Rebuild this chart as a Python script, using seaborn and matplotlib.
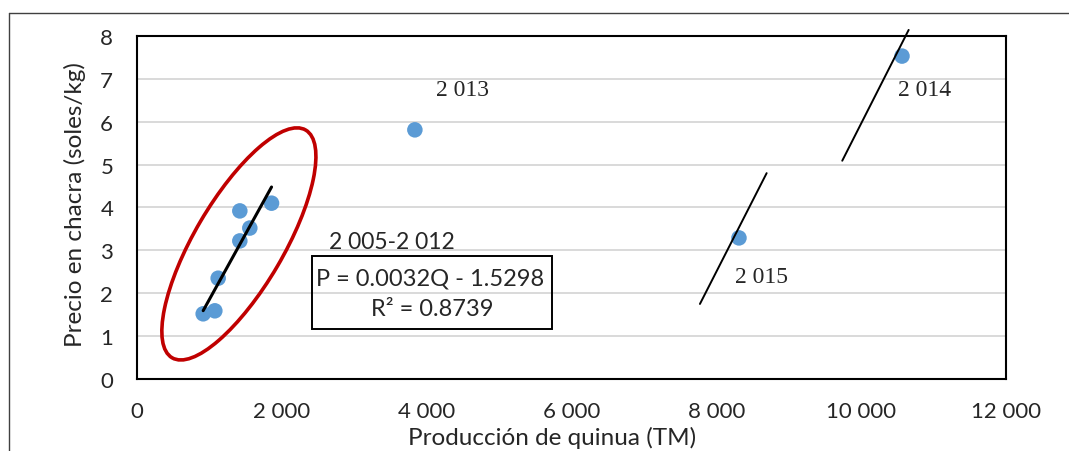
import matplotlib.pyplot as plt
import seaborn as sns
import pandas as pd
import numpy as np
from matplotlib.patches import Ellipse, Rectangle
from matplotlib.transforms import ScaledTranslation
from matplotlib.lines import Line2D

# datos
produccion = [916, 1077, 1123, 1422, 1560, 1422, 1860, 3839, 10565, 8314]
precio = [1.52, 1.59, 2.35, 3.22, 3.52, 3.92, 4.10, 5.81, 7.53, 3.29]
periodo = ['2005-2012'] * 7 + ['2013', '2014', '2015']

# lineas de tendencia dibujadas a mano (2014 y 2015)
tend_2014_x = [9740, 10657]
tend_2014_y = [5.09, 8.14]
tend_2015_x = [7775, 8696]
tend_2015_y = [1.75, 4.80]

x_ticks = [0, 2000, 4000, 6000, 8000, 10000, 12000]
x_ticklabels = ['0', '2 000', '4 000', '6 000', '8 000', '10 000', '12 000']
y_ticks = [0, 1, 2, 3, 4, 5, 6, 7, 8]

df = pd.DataFrame({'Produccion': produccion, 'Precio': precio, 'Periodo': periodo})

sns.set_style('white')
plt.rcParams['font.family'] = ['Lato', 'DejaVu Sans']

fig = plt.figure(figsize=(10.69, 4.52), dpi=100)
ax = fig.add_axes([0.128, 0.1593, 0.813, 0.759])

ax.set_xlim(0, 12000)
ax.set_ylim(0, 8)
ax.set_yticks(y_ticks)
ax.grid(axis='y', color='#D9D9D9', lw=1.4)
ax.set_axisbelow(True)

sns.scatterplot(data=df, x='Produccion', y='Precio', color='#5B9BD5', s=125,
                edgecolor='none', ax=ax, zorder=3)

# regresion 2005-2012
sub = df[df['Periodo'] == '2005-2012']
m, b = np.polyfit(sub['Produccion'], sub['Precio'], 1)
xs = np.array([sub['Produccion'].min(), sub['Produccion'].max()])
ax.plot(xs, m * xs + b, color='black', lw=2.2, zorder=4)

ax.plot(tend_2014_x, tend_2014_y, color='black', lw=1.4, clip_on=False, zorder=4)
ax.plot(tend_2015_x, tend_2015_y, color='black', lw=1.4, zorder=4)

# elipse roja alrededor del grupo 2005-2012
ell = Ellipse((0, 0), width=2.64, height=0.89, angle=59.6, fill=False,
              edgecolor='#C00000', lw=2.6,
              transform=fig.dpi_scale_trans + ScaledTranslation(1409, 3.15, ax.transData),
              zorder=5)
ax.add_patch(ell)

# recuadro de la ecuacion
ax.add_patch(Rectangle((2413, 1.166), 3314, 1.703, fill=False, edgecolor='black', lw=1.4, zorder=4))
ax.text(4050, 2.356, 'P = 0.0032Q - 1.5298', ha='center', va='center', fontsize=17)
ax.text(4074, 1.633, 'R² = 0.8739', ha='center', va='center', fontsize=17)
ax.text(3522, 3.20, '2 005-2 012', ha='center', va='center', fontsize=16.5)

for txt, xx, yy in [('2 013', 4495, 6.75), ('2 014', 10875, 6.76), ('2 015', 8624, 2.38)]:
    ax.text(xx, yy, txt, ha='center', va='center', fontsize=17, family='Liberation Serif')

ax.set_xticks(x_ticks)
ax.set_xticklabels(x_ticklabels)
ax.tick_params(axis='both', length=0, labelsize=16)
ax.tick_params(axis='y', pad=17)
ax.tick_params(axis='x', pad=16)
ax.set_xlabel('Producción de quinua (TM)', fontsize=17.5)
ax.set_ylabel('Precio en chacra (soles/kg)', fontsize=17.5)
ax.xaxis.set_label_coords(0.4776, -0.137)
ax.yaxis.set_label_coords(-0.059, 0.51)

for sp in ax.spines.values():
    sp.set_color('black')
    sp.set_linewidth(1.5)

# marco exterior del grafico
fig.add_artist(Line2D([0.0084, 1.0], [0.968, 0.968], color='#404040', lw=1.0))
fig.add_artist(Line2D([0.0084, 0.0084], [0.0, 0.968], color='#404040', lw=1.0))

fig.savefig('out.png', dpi=100)
